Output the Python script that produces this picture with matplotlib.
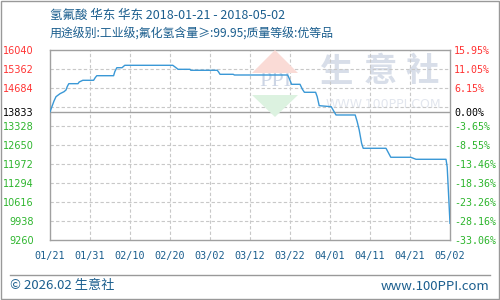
import matplotlib
matplotlib.use('Agg')
import matplotlib.pyplot as plt
import matplotlib.patches as patches
from matplotlib.lines import Line2D

plt.rcParams['font.family'] = ['Noto Sans CJK SC', 'DejaVu Sans']

# data (x = day slot from 01/21, 05/02 at the end)
days = [0, 1, 1.5, 2.5, 3.5, 4, 4.3, 4.7, 7, 7.3, 8.2, 10.9, 11.3, 11.7, 15.9, 16.2,
        16.7, 18, 18.7, 30.7, 31.7, 32, 35, 35.2, 41.8, 42.1, 42.5, 45.8, 46.1, 59.4,
        59.8, 60.4, 62.5, 63.1, 63.6, 66.4, 66.8, 67.3, 70.3, 71.5, 76.3, 76.8, 77.3,
        77.9, 78.3, 84, 85.2, 90.2, 91.5, 99, 99.3, 100]
prices = [13833, 14220, 14374, 14481, 14552, 14613, 14731, 14838, 14838, 14898, 14959,
          14959, 15052, 15123, 15123, 15266, 15408, 15408, 15494, 15494, 15387, 15351,
          15351, 15316, 15316, 15266, 15173, 15173, 15148, 15148, 15030, 14816, 14816,
          14638, 14531, 14531, 14374, 14053, 14017, 13721, 13721, 13482, 13186, 12711,
          12533, 12533, 12212, 12212, 12140, 12140, 11865, 9857]

x_ticks = [0, 10, 20, 30, 40, 50, 60, 70, 80, 90, 100]
x_labels = ['01/21', '01/31', '02/10', '02/20', '03/02', '03/12', '03/22',
            '04/01', '04/11', '04/21', '05/02']

base = 13833
y_ticks = [16040, 15362, 14684, 13833, 13328, 12650, 11972, 11294, 10616, 9938, 9260]
pct_labels = ['15.95%', '11.05%', '6.15%', '0.00%', '-3.65%', '-8.55%', '-13.46%',
              '-18.36%', '-23.26%', '-28.16%', '-33.06%']
grid_levels = [15362, 14684, 14006, 13328, 12650, 11972, 11294, 10616, 9938]

title1 = '氢氟酸 华东 华东 2018-01-21 - 2018-05-02'
title2 = '用途级别:工业级;氟化氢含量≥:99.95;质量等级:优等品'

RED = '#ff3333'
GREEN = '#2db52d'
BLUE_TXT = '#1b5e8e'
GRID = '#c8c8c8'
FRAME = '#a0a0a0'

W, H = 500, 300
fig = plt.figure(figsize=(5, 3), dpi=100)


def fx(x):
    return x / W


def fy(y):
    return 1 - y / H


ax = fig.add_axes([fx(50), fy(240), 400 / W, 190 / H])
ax.set_xlim(x_ticks[0], x_ticks[-1])
ax.set_ylim(min(y_ticks), max(y_ticks))

# grid
for g in grid_levels:
    ax.axhline(g, color=GRID, lw=0.8, linestyle=(0, (3, 2)), zorder=1)
for t in x_ticks[1:-1]:
    ax.axvline(t, color=GRID, lw=0.8, linestyle=(0, (3, 2)), zorder=1)
ax.axhline(base, color=FRAME, lw=1.0, zorder=2)

# watermark
wm = dict(transform=fig.transFigure, zorder=0)
fig.patches.append(patches.Polygon([(fx(252), fy(73)), (fx(298), fy(73)), (fx(275), fy(50))],
                                   closed=True, facecolor='#fadbd6', edgecolor='none', **wm))
fig.patches.append(patches.Polygon([(fx(252), fy(95)), (fx(298), fy(95)), (fx(275), fy(117))],
                                   closed=True, facecolor='#dcf2e0', edgecolor='none', **wm))
ax.text((275 - 50) / 400, (240 - 82) / 190, 'PPI', transform=ax.transAxes, ha='center',
        va='center', fontsize=16, color='#ccd5e5', family='Liberation Serif', zorder=0)
for cx, ch in zip([337, 380, 422], '生意社'):
    ax.text((cx - 50) / 400, (240 - 72) / 190, ch, transform=ax.transAxes, ha='center',
            va='center', fontsize=24, color='#d8dee9', fontweight='bold', zorder=0)
ax.text((326 - 50) / 400, (240 - 104) / 190, 'WWW.100PPI.COM', transform=ax.transAxes,
        ha='left', va='center', fontsize=9, color='#e2e6ee', family='DejaVu Sans', zorder=0)

ax.plot(days, prices, color='#3a98d6', lw=1.0, zorder=3)

for s in ax.spines.values():
    s.set_color(FRAME)
    s.set_linewidth(1.0)

ax.set_xticks(x_ticks)
ax.set_xticklabels(x_labels, family='DejaVu Sans Mono', fontsize=7.3, color=BLUE_TXT)
ax.set_yticks(y_ticks)
ax.set_yticklabels([str(v) for v in y_ticks], family='DejaVu Sans', fontsize=7)
ax.tick_params(axis='both', length=0)
ax.tick_params(axis='x', pad=8)
ax.tick_params(axis='y', pad=11.5)


def tick_color(v):
    if v > base:
        return RED
    if v < base:
        return GREEN
    return 'black'


for lab, v in zip(ax.get_yticklabels(), y_ticks):
    lab.set_color(tick_color(v))

ax2 = ax.twinx()
ax2.set_ylim(ax.get_ylim())
ax2.set_yticks(y_ticks)
ax2.set_yticklabels(pct_labels, family='DejaVu Sans Mono', fontsize=7.2)
ax2.tick_params(axis='y', length=0, pad=3)
for s in ax2.spines.values():
    s.set_visible(False)
for lab, v in zip(ax2.get_yticklabels(), y_ticks):
    lab.set_color(tick_color(v))

# titles
fig.text(fx(50), fy(15), title1, ha='left', va='center', fontsize=9, color=BLUE_TXT)
fig.text(fx(50), fy(34), title2, ha='left', va='center', fontsize=8.6, color=BLUE_TXT)

# footer
fig.lines.append(Line2D([fx(10), fx(490)], [fy(275), fy(275)], transform=fig.transFigure,
                        color='#999999', lw=1))
fig.text(fx(10), fy(286), '© 2026.02 生意社', ha='left', va='center', fontsize=9.5,
         color=BLUE_TXT)
fig.text(fx(489), fy(286), 'www.100PPI.com', ha='right', va='center', fontsize=9.5,
         color=BLUE_TXT)

# outer border
fig.patches.append(patches.Rectangle((0.001, 0.002), 0.997, 0.995, transform=fig.transFigure,
                                     fill=False, edgecolor='#999999', lw=1))

fig.savefig('out.png', dpi=100)
